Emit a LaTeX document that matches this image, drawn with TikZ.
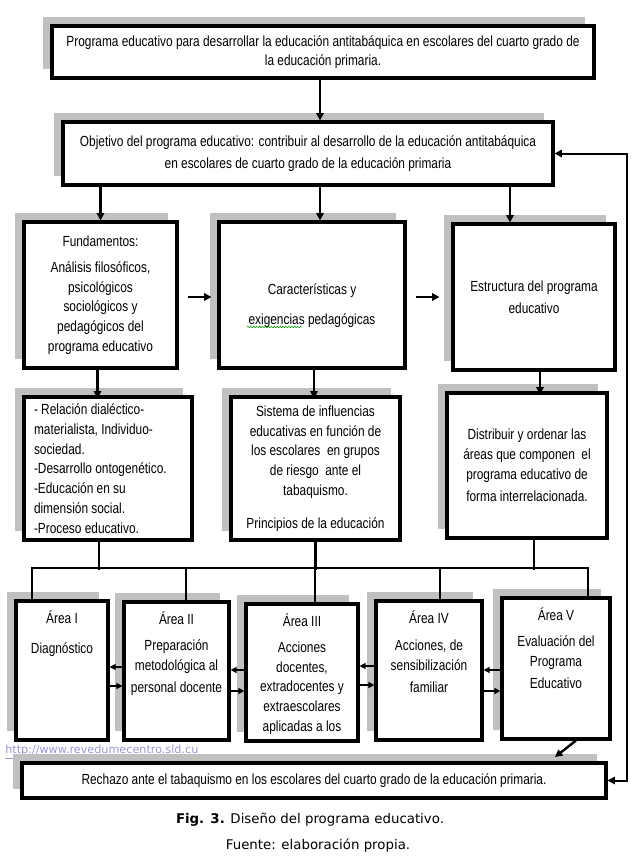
\documentclass[tikz,border=0pt]{standalone}
\usepackage{fontspec}
\setmainfont{Liberation Sans}
\newfontfamily\boxfont[FakeStretch=0.81]{Liberation Sans}
\newfontfamily\capfont{DejaVu Sans}
\usetikzlibrary{arrows.meta, shadows, decorations.pathmorphing, positioning}
\definecolor{shadowgray}{RGB}{192,192,192}
\definecolor{urlblue}{RGB}{150,150,215}

\tikzset{
  box/.style={draw, line width=2.3pt, fill=white, inner sep=0pt, align=center,
    font=\boxfont\fontsize{11}{14.8}\selectfont,
    general shadow={fill=shadowgray, shadow xshift=-7pt, shadow yshift=7pt}},
  areatext/.style={anchor=north, yshift=-8pt, inner sep=0pt, align=center,
    font=\boxfont\fontsize{11}{14.8}\selectfont},
  conn/.style={line width=1.8pt},
  thinarr/.style={line width=0.9pt, -{Triangle[length=4.5pt,width=4.5pt]}},
}

\begin{document}
\begin{tikzpicture}[x=0.75pt, y=-0.75pt, >={Triangle[length=5.5pt,width=5.5pt]}]
  \useasboundingbox (0,0) rectangle (636,860);
  % url under the last box
  \node[text=urlblue, font=\capfont\fontsize{8.4}{10}\selectfont, anchor=west, inner sep=0pt]
    (url) at (5,752) {\underline{http://www.revedumecentro.sld.cu}};
  % programme and objective
  \node[box, minimum width=406.5pt, minimum height=39pt] (prog) at (323,52)
    {Programa educativo para desarrollar la educación antitabáquica en escolares del cuarto grado de\\ la educación primaria.};
  \node[box, minimum width=367.5pt, minimum height=47.25pt] (obj) at (308,153.5)
    {Objetivo del programa educativo: contribuir al desarrollo de la educación antitabáquica\\[2pt] en escolares de cuarto grado de la educación primaria};
  % second row
  \node[box, minimum width=114.75pt, minimum height=109.5pt] (fund) at (100.5,295)
    {Fundamentos:\\[5pt] Análisis filosóficos,\\ psicológicos\\ sociológicos y\\ pedagógicos del\\ programa educativo};
  \node[box, minimum width=139.5pt, minimum height=109.5pt] (carac) at (312,295)
    {\mbox{}\\[9pt] Características y\\[8pt] exigencias pedagógicas};
  \node[box, minimum width=121.5pt, minimum height=109.5pt] (estr) at (534,297)
    {Estructura del programa\\[2pt] educativo};
  % third row
  \node[box, minimum width=126pt, minimum height=107.25pt, text width=111pt, align=flush left] (rel) at (108,468.5)
    {- Relación dialéctico-\\ materialista, Individuo-\\ sociedad.\\ -Desarrollo ontogenético.\\ -Educación en su\\ dimensión social.\\ -Proceso educativo.};
  \node[box, minimum width=126.75pt, minimum height=107.25pt] (sist) at (315.5,468.5)
    {Sistema de influencias\\ educativas en función de\\ los escolares \ en grupos\\ de riesgo \ ante el\\ tabaquismo.\\[10pt] Principios de la educación};
  \node[box, minimum width=120pt, minimum height=108.75pt] (distr) at (527,465.5)
    {Distribuir y ordenar las\\ áreas que componen \ el\\ programa educativo de\\[2pt] forma interrelacionada.};
  % areas
  \node[box, minimum width=69pt, minimum height=104.25pt,
    label={[areatext]north:{Área I\\[8pt] Diagnóstico}}] (a1) at (62,670.5) {};
  \node[box, minimum width=78.75pt, minimum height=103.5pt,
    label={[areatext]north:{Área II\\[5pt] Preparación\\ metodológica al\\[2pt] personal docente}}] (a2) at (176.5,671) {};
  \node[box, minimum width=84pt, minimum height=102.75pt,
    label={[areatext]north:{Área III\\[5pt] Acciones\\ docentes,\\ extradocentes y\\ extraescolares\\ aplicadas a los}}] (a3) at (302,672.5) {};
  \node[box, minimum width=79.5pt, minimum height=104.25pt,
    label={[areatext]north:{Área IV\\[6pt] Acciones, de\\ sensibilización\\[2pt] familiar}}] (a4) at (429,670.5) {};
  \node[box, minimum width=81pt, minimum height=105.75pt,
    label={[areatext]north:{Área V\\[5pt] Evaluación del\\ Programa\\[2pt] Educativo}}] (a5) at (556,668.5) {};
  % result
  \node[box, minimum width=438pt, minimum height=26.25pt] (rech) at (314,780.5)
    {Rechazo ante el tabaquismo en los escolares del cuarto grado de la educación primaria.};
  % caption
  \node[font=\capfont\fontsize{10}{12}\selectfont, inner sep=0pt] (fig) at (310,820)
    {\textbf{Fig. 3.} Diseño del programa educativo.};
  \node[font=\capfont\fontsize{10}{12}\selectfont, inner sep=0pt] (src) at (318,846)
    {Fuente: elaboración propia.};

  % arrows between rows
  \coordinate (colM) at (320,0);
  \coordinate (colR) at (510,0);
  \draw[conn,->] (colM |- prog.south) -- (colM |- obj.north);
  \draw[conn,->] (fund |- obj.south) -- (fund.north);
  \draw[conn,->] (colM |- obj.south) -- (colM |- carac.north);
  \draw[conn,->] (colR |- obj.south) -- (colR |- estr.north);
  \draw[conn,->] (fund.east) ++(9,2) -- ++(24,0);
  \draw[conn,->] (carac.east) ++(9,2) -- ++(24,0);
  \draw[conn,->] (fund.south) ++(-3,0) -- ++(0,29);
  \draw[conn,->] (carac.south) ++(2,0) -- ++(0,29);
  \draw[conn,->] (estr.south) ++(6,0) -- ++(0,23);
  % bus to the areas
  \coordinate (busL) at (32,568);
  \coordinate (busR) at (588,568);
  \draw[conn] (busL |- a1.north) -- (busL) -- (busR) -- (busR |- a5.north);
  \draw[conn] (rel.south) ++(-9,0) -- ++(0,28);
  \draw[conn] (sist.south) ++(0,0) -- ++(0,28);
  \draw[conn] (distr.south) ++(7,0) -- ++(0,30);
  \foreach \a/\x in {a2/186, a3/315, a4/440}
    \draw[conn] (\x,568) -- (\x,0 |- \a.north);
  % links between the areas
  \foreach \l/\r/\ya/\yb in {a1/a2/667/686, a2/a3/670/691, a3/a4/666/685, a4/a5/670/691} {
    \draw[thinarr] (\r.west |- 0,\ya) -- (\l.east |- 0,\ya);
    \draw[thinarr] (\l.east |- 0,\yb) -- (\r.west |- 0,\yb);
  }
  % to the result and back
  \draw[conn,->] (a5.south) ++(20,0) -- (555,757);
  \coordinate (fb) at (627,0);
  \draw[line width=1.5pt,<->] (rech.east) -| (fb |- obj.east) -- (obj.east);
  % spelling mark
  \draw[green!60!black, line width=0.4pt, decorate,
    decoration={snake, amplitude=0.6pt, segment length=2.2pt}] (247,327) -- (302,327);
\end{tikzpicture}
\end{document}
